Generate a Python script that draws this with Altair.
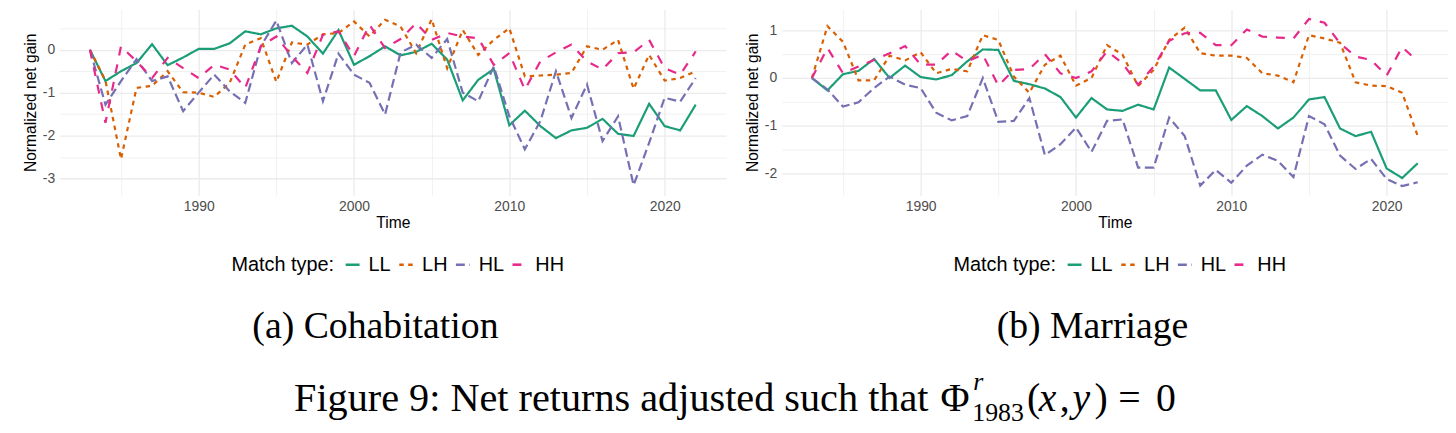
import altair as alt
import pandas as pd

years = list(range(1983, 2023))
types = ["LL", "LH", "HL", "HH"]
colors = ["#1B9E77", "#D95F02", "#7570B3", "#E7298A"]
dashes = [[1, 0], [4.5, 4.5], [9, 4.5], [9, 9]]

coh_LL = [0, -0.73, -0.5, -0.31, 0.13, -0.36, -0.18, 0.02, 0.02, 0.15, 0.43, 0.36, 0.5, 0.56, 0.31, -0.09, 0.46,
          -0.35, -0.15, 0.08, -0.13, -0.05, 0.14, -0.23, -1.18, -0.7, -0.45, -1.76, -1.42, -1.78, -2.06, -1.88,
          -1.82, -1.61, -1.96, -2.01, -1.26, -1.78, -1.88, -1.28]
coh_LH = [0, -0.72, -2.55, -0.89, -0.84, -0.5, -0.99, -1.0, -1.1, -0.77, 0.12, 0.27, -0.75, 0.17, 0.12, 0.36, 0.39,
          0.66, 0.31, 0.7, 0.54, -0.08, 0.71, -0.43, 0.46, -0.12, 0.23, 0.5, -0.62, -0.6, -0.58, -0.54, 0.08, 0.0,
          0.23, -0.91, -0.12, -0.72, -0.66, -0.5]
coh_HL = [0, -1.28, -0.73, -0.22, -0.73, -0.62, -1.43, -1.0, -0.58, -0.97, -1.24, 0.08, 0.68, -0.31, 0.12, -1.2, -0.09,
          -0.58, -0.77, -1.51, -0.06, 0.12, -0.19, 0.25, -1.0, -1.2, -0.39, -1.55, -2.32, -1.66, -0.5, -1.59, -0.81,
          -2.13, -1.55, -3.16, -2.17, -1.12, -1.21, -0.66]
coh_HH = [0, -1.7, 0.08, -0.27, -0.66, -0.19, -0.43, -0.66, -0.35, -0.46, -0.89, 0.08, 0.31, -0.15, -0.54, 0.35, 0.43,
          -0.15, 0.58, 0.04, 0.25, 0.62, 0.23, 0.39, 0.31, 0.27, -0.35, -0.08, -0.93, -0.27, -0.06, 0.12, -0.27,
          -0.46, -0.08, -0.06, 0.23, -0.43, -0.58, -0.04]

mar_LL = [0, -0.26, 0.08, 0.15, 0.4, 0, 0.26, 0.02, -0.03, 0.06, 0.35, 0.6, 0.59, -0.06, -0.13, -0.22, -0.4, -0.83,
          -0.42, -0.66, -0.69, -0.56, -0.66, 0.22, -0.02, -0.26, -0.26, -0.88, -0.59, -0.8, -1.06, -0.83, -0.45,
          -0.4, -1.06, -1.22, -1.13, -1.9, -2.1, -1.79]
mar_LH = [0, 1.09, 0.76, -0.05, -0.05, 0.47, 0.37, 0.54, 0.1, 0.19, 0.14, 0.9, 0.8, 0.03, -0.31, 0.28, 0.47, -0.16,
          0.0, 0.69, 0.49, -0.17, 0.17, 0.8, 1.06, 0.52, 0.47, 0.47, 0.42, 0.1, 0.05, -0.09, 0.9, 0.83, 0.74,
          -0.09, -0.16, -0.17, -0.31, -1.22]
mar_HL = [0, -0.24, -0.6, -0.51, -0.21, 0.03, -0.14, -0.21, -0.73, -0.89, -0.8, 0, -0.92, -0.9, -0.42, -1.62, -1.39,
          -1.04, -1.55, -0.9, -0.87, -1.88, -1.88, -0.83, -1.22, -2.26, -1.93, -2.2, -1.84, -1.61, -1.74, -2.08,
          -0.8, -0.97, -1.63, -1.91, -1.7, -2.12, -2.27, -2.19]
mar_HH = [0, 0.63, 0.1, 0.24, 0.38, 0.52, 0.67, 0.28, 0.28, 0.58, 0.35, 0.49, -0.16, 0.17, 0.19, 0.5, 0.1, 0,
          0.14, 0.56, 0.31, -0.14, 0.24, 0.78, 0.94, 0.95, 0.69, 0.69, 1.02, 0.87, 0.85, 0.83, 1.24, 1.16, 0.73,
          0.45, 0.38, 0.05, 0.65, 0.35]

x_ticks = [1985, 1990, 1995, 2000, 2005, 2010, 2015, 2020]
coh_yticks = [-3, -2.5, -2, -1.5, -1, -0.5, 0, 0.5]
mar_yticks = [-2, -1.5, -1, -0.5, 0, 0.5, 1]

SANS = "Liberation Sans"
SERIF = "Liberation Serif"
GRID = "#EBEBEB"


def make_df(series):
    rows = []
    for t, vals in zip(types, series):
        for yr, v in zip(years, vals):
            rows.append({"year": yr, "value": v, "type": t})
    return pd.DataFrame(rows)


def panel(series, ydomain, yticks, legx, legy):
    df = make_df(series)
    leg = alt.Legend(
        orient="none", legendX=legx, legendY=legy, direction="horizontal", columns=4,
        title="Match type:", titleOrient="left", titleFont=SANS, titleFontSize=20,
        titleFontWeight="normal", titleColor="black", titlePadding=8, titleBaseline="middle",
        labelFont=SANS, labelFontSize=20, labelColor="black", labelOffset=6,
        symbolType="stroke", symbolSize=196, symbolStrokeWidth=2.6, columnPadding=2,
    )
    xaxis = alt.Axis(
        values=x_ticks, labelExpr="datum.value % 10 == 0 ? toString(datum.value) : ''",
        ticks=False, domain=False, grid=True, gridColor=GRID,
        gridWidth={"condition": {"test": "datum.value % 10 != 0", "value": 0.7}, "value": 1.3},
        labelFont=SANS, labelFontSize=14, labelColor="#4D4D4D", labelPadding=4,
        title="Time", titleFont=SANS, titleFontSize=15.7, titleFontWeight="normal",
        titleColor="black", titlePadding=3,
    )
    yaxis = alt.Axis(
        values=yticks, labelExpr="datum.value % 1 == 0 ? toString(datum.value) : ''",
        ticks=False, domain=False, grid=True, gridColor=GRID,
        gridWidth={"condition": {"test": "datum.value % 1 != 0", "value": 0.7}, "value": 1.3},
        labelFont=SANS, labelFontSize=14, labelColor="#4D4D4D", labelPadding=5,
        title="Normalized net gain", titleFont=SANS, titleFontSize=15.7, titleFontWeight="normal",
        titleColor="black", titlePadding=4,
    )
    return alt.Chart(df).mark_line(strokeWidth=2.2).encode(
        x=alt.X("year:Q", scale=alt.Scale(domain=[1981.05, 2023.95], nice=False, zero=False), axis=xaxis),
        y=alt.Y("value:Q", scale=alt.Scale(domain=ydomain, nice=False, zero=False), axis=yaxis),
        color=alt.Color("type:N", scale=alt.Scale(domain=types, range=colors), legend=leg),
        strokeDash=alt.StrokeDash("type:N", scale=alt.Scale(domain=types, range=dashes), legend=leg),
    ).properties(width=671, height=187)


pa = panel([coh_LL, coh_LH, coh_HL, coh_HH], [-3.39, 0.94], coh_yticks, 173, 247)
pb = panel([mar_LL, mar_LH, mar_HL, mar_HH], [-2.46, 1.44], mar_yticks, 173, 247)

# caption chart: origin offsets in page coordinates
CX0, CY0 = 59, 273
one = alt.Data(values=[{}])


def txt(s, x, y, size, style="normal", align="left"):
    return alt.Chart(one).mark_text(
        text=s, font=SERIF, fontSize=size, fontStyle=style, align=align,
        baseline="alphabetic", color="black",
    ).encode(x=alt.value(x - CX0), y=alt.value(y - CY0))


cap = alt.layer(
    txt("(a) Cohabitation", 377, 337, 38, align="center"),
    txt("(b) Marriage", 1099, 337, 38, align="center"),
    txt("Figure 9: Net returns adjusted such that", 295, 410, 40.5),
    txt("\u03a6", 946, 410, 40),
    txt("r", 979, 389, 26, "italic"),
    txt("1983", 978, 420, 26),
    txt("(", 1033, 410, 40),
    txt("x", 1045, 410, 40, "italic"),
    txt(",", 1066, 410, 40),
    txt("y", 1079, 410, 40, "italic"),
    txt(")", 1101, 410, 40),
    txt("=", 1125, 410, 40),
    txt("0", 1163, 410, 40),
).properties(width=1360, height=150)

chart = alt.vconcat(
    alt.hconcat(pa, pb, spacing=18).resolve_scale(color="independent", strokeDash="independent")
    .resolve_legend(color="independent", strokeDash="independent"),
    cap,
    spacing=0,
).properties(
    padding={"left": 14, "top": 0, "right": 0, "bottom": 0}
).configure(font=SANS, background="white").configure_view(stroke=None)

chart.save("out.html", embed_options={"renderer": "svg", "actions": False})
